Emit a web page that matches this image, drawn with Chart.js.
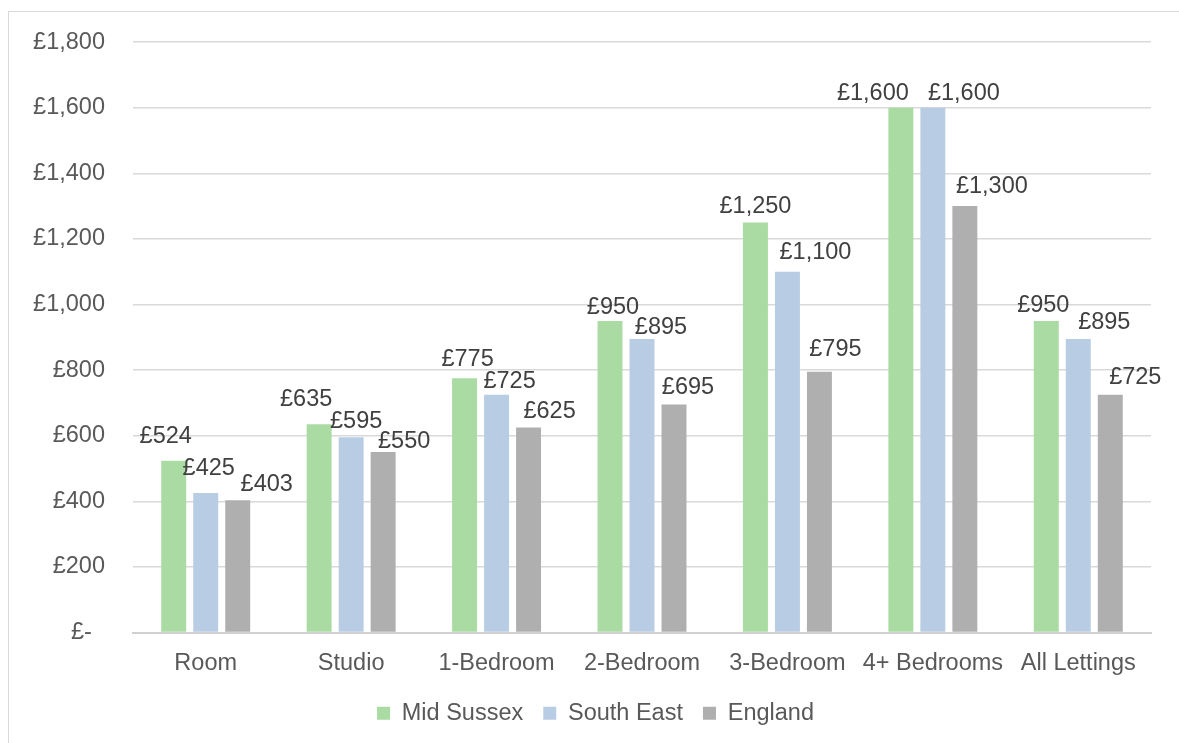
<!DOCTYPE html>
<html>
<head>
<meta charset="utf-8">
<script src="https://cdn.jsdelivr.net/npm/chart.js@4.4.1/dist/chart.umd.min.js"></script>
<style>
  html, body { margin: 0; padding: 0; background: #fff; overflow: hidden; }
  .frame { position: absolute; left: 8px; top: 11px; width: 1300px; height: 900px; border: 1px solid #d9d9d9; }
  .wrap { position: absolute; left: 0; top: 0; width: 1179px; height: 743px; }
</style>
</head>
<body>
<div class="frame"></div>
<div class="wrap"><canvas id="rents" width="1179" height="743"></canvas></div>
<script>
const categories = ["Room", "Studio", "1-Bedroom", "2-Bedroom", "3-Bedroom", "4+ Bedrooms", "All Lettings"]
const midSussex  = [524, 635, 775, 950, 1250, 1600, 950]
const southEast  = [425, 595, 725, 895, 1100, 1600, 895]
const england    = [403, 550, 625, 695, 795, 1300, 725]
const yTicks     = [0, 200, 400, 600, 800, 1000, 1200, 1400, 1600, 1800]

const FONT = "'Liberation Sans', Arial, sans-serif"

// labels sit above each bar; nudges keep neighbouring labels from colliding
// [dx, gap above bar top] per series, per category
const labelNudge = [
  [[-8, 18], [-13, 18], [3, 12], [3, 7], [0, 10], [-28, 8], [-3, 9]],
  [[3, 18], [5, 9], [13, 7], [19, 5], [28, 13], [31, 8], [26, 10]],
  [[29, 9], [21, 4], [21, 10], [14, 11], [16, 16], [27, 13], [25, 11]]
]

const money = v => v === 0 ? "£-  " : "£" + v.toLocaleString("en-GB")

const valueLabels = {
  id: "valueLabels",
  afterDatasetsDraw(chart) {
    const { ctx } = chart
    ctx.save()
    ctx.font = `23.5px ${FONT}`
    ctx.fillStyle = "#404040"
    ctx.textAlign = "center"
    ctx.textBaseline = "alphabetic"
    chart.data.datasets.forEach((ds, di) => {
      chart.getDatasetMeta(di).data.forEach((bar, i) => {
        const [dx, gap] = labelNudge[di][i]
        ctx.fillText(money(ds.data[i]), bar.x + dx, bar.y - gap)
      })
    })
    ctx.restore()
  }
}

// centre the legend under the plot rather than the whole canvas
const legendShift = {
  id: "legendShift",
  afterLayout(chart) {
    chart.legend.left += 20
    chart.legend.right += 20
  }
}

const bars = (label, data, color) => ({
  label, data,
  backgroundColor: color,
  borderWidth: 0,
  categoryPercentage: 0.66,
  barPercentage: 0.78
})

new Chart(document.getElementById("rents"), {
  type: "bar",
  data: {
    labels: categories,
    datasets: [
      bars("Mid Sussex", midSussex, "#a9dba2"),
      bars("South East", southEast, "#b8cce4"),
      bars("England",    england,   "#afafaf")
    ]
  },
  plugins: [valueLabels, legendShift],
  options: {
    responsive: false,
    animation: false,
    layout: { padding: { top: 40, right: 28, bottom: 8, left: 0 } },
    plugins: {
      tooltip: { enabled: false },
      legend: {
        position: "bottom",
        labels: {
          boxWidth: 13, boxHeight: 13, padding: 20,
          color: "#595959",
          font: { family: FONT, size: 23.5 }
        }
      }
    },
    scales: {
      x: {
        grid: { display: false, drawTicks: false },
        border: { color: "#d0d0d0", width: 2 },
        ticks: {
          color: "#595959", padding: 17, maxRotation: 0, minRotation: 0, autoSkip: false,
          font: { family: FONT, size: 23.5 }
        },
        afterFit: s => { s.height = 49 }
      },
      y: {
        min: 0, max: 1800,
        afterBuildTicks: s => { s.ticks = yTicks.map(value => ({ value })) },
        grid: { color: "#d9d9d9", lineWidth: 1.5, drawTicks: false },
        border: { display: false },
        ticks: { color: "#595959", padding: 28, font: { family: FONT, size: 23.5 }, callback: money },
        afterFit: s => { s.width = 133 }
      }
    }
  }
})
</script>
</body>
</html>
